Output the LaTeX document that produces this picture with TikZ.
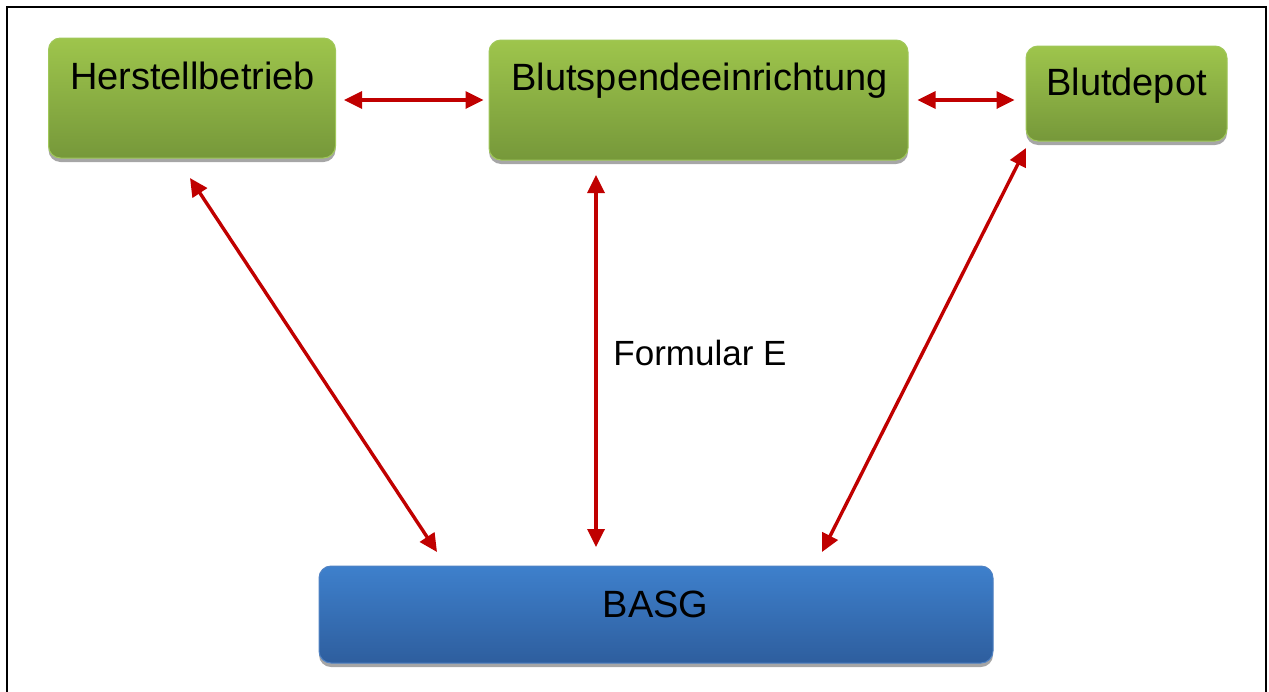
\documentclass[tikz,border=0pt]{standalone}
\usepackage{fontspec}
\setmainfont{Liberation Sans}
\usetikzlibrary{arrows.meta,shadows}
\definecolor{gtop}{RGB}{158,197,76}
\definecolor{gbot}{RGB}{118,152,58}
\definecolor{gedge}{RGB}{160,200,90}
\definecolor{btop}{RGB}{62,128,204}
\definecolor{bbot}{RGB}{46,94,158}
\definecolor{bedge}{RGB}{80,130,195}
\definecolor{arr}{RGB}{192,0,0}
\tikzset{
  box/.style={rounded corners=12pt, draw=gedge, line width=1pt, top color=gtop, bottom color=gbot,
    drop shadow={shadow xshift=0pt, shadow yshift=-4pt, fill=black!35, opacity=1}, inner sep=0pt},
  bluebox/.style={box, draw=bedge, top color=btop, bottom color=bbot},
  lbl/.style={anchor=base, inner sep=0pt, font=\fontsize{38}{45}\selectfont},
  link/.style={draw=arr, line width=3.4pt, {Triangle[length=18pt,width=17pt]}-{Triangle[length=18pt,width=17pt]}}
}
\begin{document}
\begin{tikzpicture}[x=1pt,y=-1pt]
\useasboundingbox (0,0) rectangle (1269,691);
\draw[line width=2pt] (6.5,695) -- (6.5,7) -- (1266,7) -- (1266,695);

\node[box, minimum width=287pt, minimum height=120pt] (h) at (192,98) {};
\node[box, minimum width=419pt, minimum height=120pt] (b) at (698.5,100) {};
\node[box, minimum width=201pt, minimum height=95pt] (d) at (1126.5,93.5) {};
\node[bluebox, minimum width=674pt, minimum height=97pt] (basg) at (656,614.5) {};

\node[lbl] (ht) at (192.5,89) {Herstellbetrieb};
\node[lbl] (bt) at (699.5,90) {Blutspendeeinrichtung};
\node[lbl] (dt) at (1126.5,95) {Blutdepot};
\node[lbl] (st) at (655.5,617) {BASG};
\node[lbl, font=\fontsize{35}{42}\selectfont] (ft) at (700,365) {Formular E};

\coordinate (hb1) at ([xshift=8pt]h.east |- 0,100);
\coordinate (hb2) at ([xshift=-5pt]b.west |- 0,100);
\coordinate (bd1) at ([xshift=9pt]b.east |- 0,100);
\coordinate (bd2) at ([xshift=-11pt]d.west |- 0,100);
\coordinate (hs1) at (190,178);
\coordinate (hs2) at (437,552);
\coordinate (bs1) at (596,175);
\coordinate (bs2) at (596,547);
\coordinate (ds1) at (1026,148);
\coordinate (ds2) at (822,552);

\draw[link] (hb1) -- (hb2);
\draw[link] (bd1) -- (bd2);
\draw[link] (hs1) -- (hs2);
\draw[link] (bs1) -- (bs2);
\draw[link] (ds1) -- (ds2);
\end{tikzpicture}
\end{document}
